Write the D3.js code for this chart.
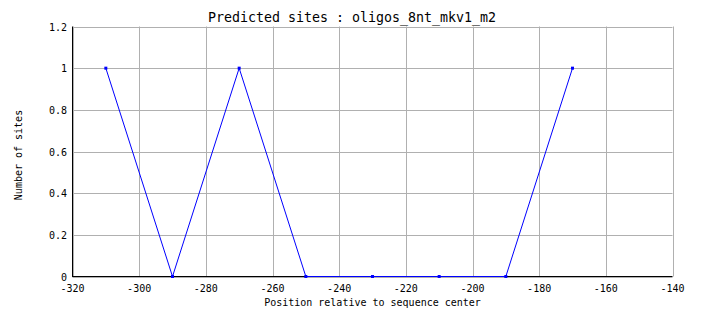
<!DOCTYPE html>
<html>
<head>
<meta charset="utf-8">
<script src="https://cdn.jsdelivr.net/npm/d3@7"></script>
<style>
  body { margin: 0; background: #fff; }
  text { font-family: "DejaVu Sans Mono", monospace; fill: #000; }
</style>
</head>
<body>
<svg id="chart" width="704" height="328"></svg>
<script>
// data
var positions = [-310, -290, -270, -250, -230, -210, -190, -170];
var sites = [1, 0, 1, 0, 0, 0, 0, 1];
var xTicks = [-320, -300, -280, -260, -240, -220, -200, -180, -160, -140];
var yTicks = [0, 0.2, 0.4, 0.6, 0.8, 1, 1.2];

var svg = d3.select("#chart");
var plotL = 72.5, plotR = 672.5, plotT = 26.5, plotB = 276.5;

var x = d3.scaleLinear().domain([-320, -140]).range([plotL, plotR]);
var y = d3.scaleLinear().domain([0, 1.2]).range([plotB, plotT]);

// grid
svg.append("g").selectAll("line").data(xTicks).enter().append("line")
	.attr("x1", d => Math.round(x(d)) + 0.5).attr("x2", d => Math.round(x(d)) + 0.5)
	.attr("y1", plotT).attr("y2", plotB)
	.attr("stroke", "#b0b0b0").attr("stroke-width", 1);
svg.append("g").selectAll("line").data(yTicks).enter().append("line")
	.attr("x1", plotL).attr("x2", plotR)
	.attr("y1", d => Math.round(y(d)) + 0.5).attr("y2", d => Math.round(y(d)) + 0.5)
	.attr("stroke", "#b0b0b0").attr("stroke-width", 1);

// axes lines
svg.append("line").attr("x1", plotL).attr("x2", plotL).attr("y1", plotT).attr("y2", plotB + 0.5)
	.attr("stroke", "#000").attr("stroke-width", 1);
svg.append("line").attr("x1", plotL).attr("x2", plotR).attr("y1", plotB).attr("y2", plotB)
	.attr("stroke", "#000").attr("stroke-width", 1);

// tick labels
svg.append("g").selectAll("text").data(xTicks).enter().append("text")
	.attr("x", d => x(d)).attr("y", 292)
	.attr("text-anchor", "middle").attr("font-size", "10px")
	.text(d => d);
svg.append("g").selectAll("text").data(yTicks).enter().append("text")
	.attr("x", 67).attr("y", d => y(d) + 4)
	.attr("text-anchor", "end").attr("font-size", "10px")
	.text(d => d);

// series
var line = d3.line().x((d, i) => x(positions[i])).y(d => y(d));
svg.append("path").datum(sites)
	.attr("fill", "none").attr("stroke", "#0000ff").attr("stroke-width", 1)
	.attr("d", line);
svg.append("g").selectAll("rect").data(sites).enter().append("rect")
	.attr("x", (d, i) => x(positions[i]) - 1.5).attr("y", d => y(d) - 1.5)
	.attr("width", 3).attr("height", 3).attr("fill", "#0000ff");

// titles
svg.append("text").attr("x", 352).attr("y", 22)
	.attr("text-anchor", "middle").attr("font-size", "13.3px")
	.text("Predicted sites : oligos_8nt_mkv1_m2");
svg.append("text").attr("x", (plotL + plotR) / 2).attr("y", 306)
	.attr("text-anchor", "middle").attr("font-size", "10px")
	.text("Position relative to sequence center");
svg.append("text").attr("transform", "translate(22,155) rotate(-90)")
	.attr("text-anchor", "middle").attr("font-size", "10px")
	.text("Number of sites");
</script>
</body>
</html>
